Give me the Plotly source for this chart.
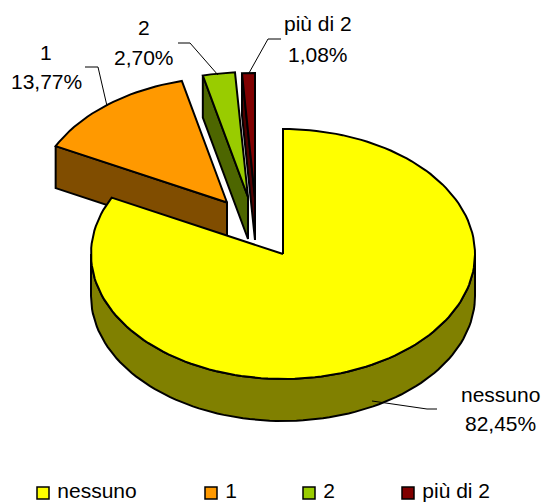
import math
import plotly.graph_objects as go

# Data
categories = ["nessuno", "1", "2", "più di 2"]
values = [82.45, 13.77, 2.70, 1.08]

# Style / layout
top_colors = ["#FFFF00", "#FF9900", "#99CC00", "#800000"]
side_colors = ["#808000", "#804D00", "#4D6600", "#4D0000"]
W, H = 542, 502
RX, RY, DEPTH = 192, 125, 42
apexes = [(283, 254), (227, 202.5), (248, 197), (255, 198)]
label_pos = [(500, 394, 423), (46, 52, 81), (144, 27, 57), (318, 23, 54)]
legend_x = [43, 211, 309, 408]
legend_y = 493
leaders = [
    [(437, 409), (427, 409), (372, 401)],
    [(85, 67), (98, 67), (107, 106)],
    [(178, 43), (190, 43), (218, 75)],
    [(281, 39), (268, 39), (249, 73)],
]
LW = 2
FS = 21
FONT = "Liberation Sans, Arial, sans-serif"

total = sum(values)
spans = []
a = 0.0
for v in values:
    spans.append((a, a + v / total * 360))
    a += v / total * 360


def pt(apex, ang, dz=0):
    r = math.radians(ang)
    return apex[0] + RX * math.sin(r), apex[1] - RY * math.cos(r) + dz


def arc(apex, a0, a1, dz=0, step=2.0):
    n = max(2, int(abs(a1 - a0) / step) + 1)
    return [pt(apex, a0 + (a1 - a0) * i / (n - 1), dz) for i in range(n)]


def poly(points, color, name):
    xs = [p[0] for p in points] + [points[0][0]]
    ys = [p[1] for p in points] + [points[0][1]]
    return go.Scatter(x=xs, y=ys, mode="lines", fill="toself", fillcolor=color,
                      line=dict(color="black", width=LW), name=name,
                      showlegend=False, hoverinfo="skip")


fig = go.Figure()

# Exploded slices: flat side wall at the slice's starting edge, then the top
for i in (1, 2, 3):
    ap = apexes[i]
    s = pt(ap, spans[i][0])
    fig.add_trace(poly([s, ap, (ap[0], ap[1] + DEPTH), (s[0], s[1] + DEPTH)],
                       side_colors[i], f"{categories[i]} side"))
for i in (1, 2, 3):
    ap = apexes[i]
    fig.add_trace(poly([ap] + arc(ap, spans[i][0], spans[i][1]),
                       top_colors[i], categories[i]))

# Main slice: front rim then the top
ap = apexes[0]
fig.add_trace(poly(arc(ap, 90, 270) + arc(ap, 270, 90, DEPTH),
                   side_colors[0], f"{categories[0]} side"))
fig.add_trace(poly([ap] + arc(ap, spans[0][0], spans[0][1]),
                   top_colors[0], categories[0]))

# Leader lines
for seg in leaders:
    fig.add_trace(go.Scatter(x=[p[0] for p in seg], y=[p[1] for p in seg], mode="lines",
                             line=dict(color="black", width=1), showlegend=False,
                             hoverinfo="skip"))

# Data labels
for c, v, (x, y1, y2) in zip(categories, values, label_pos):
    pct = f"{v:.2f}".replace(".", ",") + "%"
    fig.add_annotation(x=x, y=y1, text=c, showarrow=False, xanchor="center", yanchor="middle")
    fig.add_annotation(x=x, y=y2, text=pct, showarrow=False, xanchor="center", yanchor="middle")

# Legend
for c, col, x in zip(categories, top_colors, legend_x):
    fig.add_trace(go.Scatter(x=[x], y=[legend_y], mode="markers+text", text=[" " + c],
                             textposition="middle right",
                             marker=dict(symbol="square", size=12, color=col,
                                         line=dict(color="black", width=1.5)),
                             showlegend=False, hoverinfo="skip",
                             textfont=dict(family=FONT, size=FS, color="black")))

fig.update_layout(
    width=W, height=H, margin=dict(l=0, r=0, t=0, b=0),
    paper_bgcolor="white", plot_bgcolor="white", showlegend=False,
    font=dict(family=FONT, size=FS, color="black"),
    xaxis=dict(range=[0, W], visible=False, fixedrange=True),
    yaxis=dict(range=[H, 0], visible=False, fixedrange=True),
)
fig.write_html("out.html", config={"displayModeBar": False},
               post_script="document.body.style.margin='0';document.body.style.overflow='hidden';")
